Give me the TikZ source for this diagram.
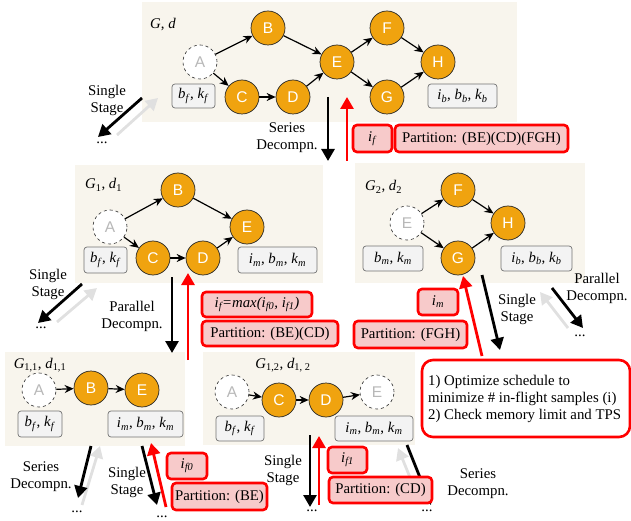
\documentclass[tikz,border=0pt]{standalone}
\usepackage{fontspec}
\setmainfont{Liberation Serif}
\newfontfamily\arialf{Liberation Sans}
\usetikzlibrary{arrows.meta}
\definecolor{panelbg}{RGB}{248,245,237}
\definecolor{vorange}{RGB}{240,163,15}
\definecolor{rfill}{RGB}{247,202,202}
\definecolor{gfill}{RGB}{243,243,243}
\newcommand\vv[2]{\textit{#1}\textsubscript{\textit{#2}}}
\begin{document}
\begin{tikzpicture}[x=1pt,y=-1pt,
  every node/.style={font=\fontsize{14.8}{17}\selectfont},
  panel/.style={fill=panelbg,draw=none},
  vtx/.style={circle,fill=vorange,draw=black!85,line width=0.7pt,minimum size=34pt,inner sep=0pt,text=white,font=\arialf\fontsize{15.5}{15}\selectfont},
  ghost/.style={circle,fill=white,draw=black!85,dashed,line width=0.6pt,minimum size=34pt,inner sep=0pt,text=black!28,font=\arialf\fontsize{15.5}{15}\selectfont},
  gbox/.style={rounded corners=3pt,draw=black!55,fill=gfill,line width=0.7pt,inner sep=1pt},
  rbox/.style={rounded corners=4pt,draw=red,fill=rfill,line width=2.6pt,inner sep=1pt},
  obox/.style={rounded corners=11pt,draw=red,fill=white,line width=2.6pt},
  edg/.style={-{Stealth[length=9pt,width=8pt]},line width=1.2pt,black},
  bigarr/.style={-{Triangle[length=12pt,width=13pt]},line width=2.8pt},
  barr/.style={bigarr,black},
  rarr/.style={bigarr,red},
  garr/.style={bigarr,black!12},
  lbl/.style={align=center,inner sep=0pt},
]
\useasboundingbox (0,0) rectangle (631,521);

% ---------- panels ----------
\fill[panel] (142,2) rectangle (517,122);
\fill[panel] (75,165) rectangle (323,283);
\fill[panel] (355,163) rectangle (585,283);
\fill[panel] (5,352) rectangle (185,446);
\fill[panel] (203,352) rectangle (415,445);

% ---------- top graph ----------
\node[anchor=west,inner sep=0pt] (lG) at (150,25) {\textit{G}, \textit{d}};
\node[ghost] (tA) at (200,62) {A};
\node[vtx] (tB) at (268,28) {B};
\node[vtx] (tC) at (242,97) {C};
\node[vtx] (tD) at (293,97) {D};
\node[vtx] (tE) at (337,62) {E};
\node[vtx] (tF) at (387,28) {F};
\node[vtx] (tG) at (387,97) {G};
\node[vtx] (tH) at (438,62) {H};
\draw[edg] (tA) -- (tB);
\draw[edg] (tA) -- (tC);
\draw[edg] (tC) -- (tD);
\draw[edg] (tB) -- (tE);
\draw[edg] (tD) -- (tE);
\draw[edg] (tE) -- (tF);
\draw[edg] (tE) -- (tG);
\draw[edg] (tF) -- (tH);
\draw[edg] (tG) -- (tH);
\node[gbox,minimum width=43pt,minimum height=24pt] (tb1) at (193.5,96) {\vv{b}{f}, \vv{k}{f}};
\node[gbox,minimum width=69pt,minimum height=24pt] (tb2) at (462.5,96) {\vv{i}{b}, \vv{b}{b}, \vv{k}{b}};

% top arrows
\coordinate (t1s) at (328,97); \coordinate (t1e) at (328,161);
\coordinate (t2s) at (347,161); \coordinate (t2e) at (347,97);
\draw[barr] (t1s) -- (t1e);
\draw[rarr] (t2s) -- (t2e);
\node[lbl] (tser) at (287,138) {Series\\Decompn.};
\node[rbox,minimum width=39pt,minimum height=27pt] (tif) at (372.5,138.5) {\vv{i}{f}};
\node[rbox,minimum width=173pt,minimum height=27pt] (tpart) at (481.5,138.5) {Partition: (BE)(CD)(FGH)};

\coordinate (ts1s) at (142,98); \coordinate (ts1e) at (98,137);
\coordinate (ts2s) at (117,135); \coordinate (ts2e) at (158,98);
\draw[garr] (ts2s) -- (ts2e);
\draw[barr] (ts1s) -- (ts1e);
\node[lbl] (tss) at (107,100) {Single\\Stage};
\node[inner sep=0pt] (tdots) at (102,143) {...};

% ---------- G1 ----------
\node[anchor=west,inner sep=0pt] (lG1) at (85,185) {\textit{G}\textsubscript{1}, \textit{d}\textsubscript{1}};
\node[ghost] (aA) at (110,227) {A};
\node[vtx] (aB) at (178,190) {B};
\node[vtx] (aC) at (153,258) {C};
\node[vtx] (aD) at (203,258) {D};
\node[vtx] (aE) at (247,227) {E};
\draw[edg] (aA) -- (aB);
\draw[edg] (aA) -- (aC);
\draw[edg] (aC) -- (aD);
\draw[edg] (aB) -- (aE);
\draw[edg] (aD) -- (aE);
\node[gbox,minimum width=43pt,minimum height=26pt] (ab1) at (105.5,260) {\vv{b}{f}, \vv{k}{f}};
\node[gbox,minimum width=79pt,minimum height=26pt] (ab2) at (277.5,260) {\vv{i}{m}, \vv{b}{m}, \vv{k}{m}};

\coordinate (a1s) at (172,277); \coordinate (a1e) at (172,353);
\coordinate (a2s) at (188,360); \coordinate (a2e) at (188,273);
\draw[barr] (a1s) -- (a1e);
\draw[rarr] (a2s) -- (a2e);
\node[lbl] (apar) at (132,316) {Parallel\\Decompn.};
\node[rbox,minimum width=110pt,minimum height=25pt] (aif) at (257,304.5) {\textit{i\textsubscript{f}=max(i\textsubscript{f0}, i\textsubscript{f1})}};
\node[rbox,minimum width=136pt,minimum height=25pt] (apart) at (270,333.5) {Partition: (BE)(CD)};

\coordinate (as1s) at (82,284); \coordinate (as1e) at (38,323);
\coordinate (as2s) at (57,322); \coordinate (as2e) at (97,288);
\draw[garr] (as2s) -- (as2e);
\draw[barr] (as1s) -- (as1e);
\node[lbl] (ass) at (48,284) {Single\\Stage};
\node[inner sep=0pt] (adots) at (41,328) {...};

% ---------- G2 ----------
\node[anchor=west,inner sep=0pt] (lG2) at (365,187) {\textit{G}\textsubscript{2}, \textit{d}\textsubscript{2}};
\node[ghost] (bE) at (407,223) {E};
\node[vtx] (bF) at (458,190) {F};
\node[vtx] (bG) at (458,258) {G};
\node[vtx] (bH) at (508,223) {H};
\draw[edg] (bE) -- (bF);
\draw[edg] (bE) -- (bG);
\draw[edg] (bF) -- (bH);
\draw[edg] (bG) -- (bH);
\node[gbox,minimum width=60pt,minimum height=25pt] (bb1) at (393,258.5) {\vv{b}{m}, \vv{k}{m}};
\node[gbox,minimum width=71pt,minimum height=25pt] (bb2) at (536.5,258.5) {\vv{i}{b}, \vv{b}{b}, \vv{k}{b}};

\coordinate (b1s) at (482,275); \coordinate (b1e) at (500,350);
\coordinate (b2s) at (482,356); \coordinate (b2e) at (463,276);
\draw[barr] (b1s) -- (b1e);
\draw[rarr] (b2s) -- (b2e);
\node[lbl] (bss) at (517,309) {Single\\Stage};
\node[rbox,minimum width=40pt,minimum height=26pt] (bim) at (438,302) {\vv{i}{m}};
\node[rbox,minimum width=113pt,minimum height=27pt] (bpart) at (410.5,334.5) {Partition: (FGH)};

\coordinate (bp1s) at (552,288); \coordinate (bp1e) at (583,328);
\coordinate (bp2s) at (568,328); \coordinate (bp2e) at (540,292);
\draw[garr] (bp2s) -- (bp2e);
\draw[barr] (bp1s) -- (bp1e);
\node[lbl] (bpar) at (597,288) {Parallel\\Decompn.};
\node[inner sep=0pt] (bdots) at (580,336) {...};

% ---------- optimize box ----------
\node[obox,minimum width=208pt,minimum height=77pt,inner sep=0pt] (opt) at (526,398.5) {};
\node[anchor=west,align=left,inner sep=0pt] (opttxt) at (428,398.5) {1) Optimize schedule to\\minimize \# in-flight samples (i)\\2) Check memory limit and TPS};

% ---------- G1,1 ----------
\node[inner sep=0pt] (lG11) at (40,365) {\textit{G}\textsubscript{1,1}, \textit{d}\textsubscript{1,1}};
\node[ghost] (cA) at (39,390) {A};
\node[vtx] (cB) at (91,388) {B};
\node[vtx] (cE) at (142,390) {E};
\draw[edg] (cA) -- (cB);
\draw[edg] (cB) -- (cE);
\node[gbox,minimum width=44pt,minimum height=26pt] (cb1) at (40,424) {\vv{b}{f}, \vv{k}{f}};
\node[gbox,minimum width=75pt,minimum height=26pt] (cb2) at (145.5,424) {\vv{i}{m}, \vv{b}{m}, \vv{k}{m}};

\coordinate (c1s) at (91,446); \coordinate (c1e) at (78,498);
\coordinate (c2s) at (82,505); \coordinate (c2e) at (100,446);
\draw[garr] (c2s) -- (c2e);
\draw[barr] (c1s) -- (c1e);
\node[lbl] (cser) at (41,477) {Series\\Decompn.};
\node[inner sep=0pt] (cdots) at (77,512) {...};

\coordinate (c3s) at (142,446); \coordinate (c3e) at (157,505);
\coordinate (c4s) at (166,507); \coordinate (c4e) at (151,443);
\draw[barr] (c3s) -- (c3e);
\draw[rarr] (c4s) -- (c4e);
\node[lbl] (css) at (127,482) {Single\\Stage};
\node[inner sep=0pt] (cdots2) at (162,517) {...};
\node[rbox,minimum width=40pt,minimum height=26pt] (cif) at (187,466) {\vv{i}{f0}};
\node[rbox,minimum width=95pt,minimum height=27pt] (cpart) at (219.5,496.5) {Partition: (BE)};

% ---------- G1,2 ----------
\node[inner sep=0pt] (lG12) at (283,365) {\textit{G}\textsubscript{1,2}, \textit{d}\textsubscript{1, 2}};
\node[ghost] (dA) at (232,392) {A};
\node[vtx] (dC) at (279,400) {C};
\node[vtx] (dD) at (326,400) {D};
\node[ghost] (dE) at (377,392) {E};
\draw[edg] (dA) -- (dC);
\draw[edg] (dC) -- (dD);
\draw[edg] (dD) -- (dE);
\node[gbox,minimum width=48pt,minimum height=25pt] (db1) at (240,428.5) {\vv{b}{f}, \vv{k}{f}};
\node[gbox,minimum width=78pt,minimum height=25pt] (db2) at (374,428.5) {\vv{i}{m}, \vv{b}{m}, \vv{k}{m}};

\coordinate (d1s) at (310,435); \coordinate (d1e) at (310,507);
\coordinate (d2s) at (319,505); \coordinate (d2e) at (319,436);
\draw[barr] (d1s) -- (d1e);
\draw[rarr] (d2s) -- (d2e);
\node[lbl] (dss) at (283,470) {Single\\Stage};
\node[inner sep=0pt] (ddots) at (312,511) {...};

\coordinate (d3s) at (407,445); \coordinate (d3e) at (431,505);
\coordinate (d4s) at (418,497); \coordinate (d4e) at (398,448);
\draw[garr] (d4s) -- (d4e);
\draw[barr] (d3s) -- (d3e);
\node[lbl] (dser) at (478,484) {Series\\Decompn.};
\node[inner sep=0pt] (ddots2) at (427,511) {...};
\node[rbox,minimum width=39pt,minimum height=26pt] (dif) at (347.5,460) {\vv{i}{f1}};
\node[rbox,minimum width=103pt,minimum height=26pt] (dpart) at (380.5,490) {Partition: (CD)};
\end{tikzpicture}
\end{document}
